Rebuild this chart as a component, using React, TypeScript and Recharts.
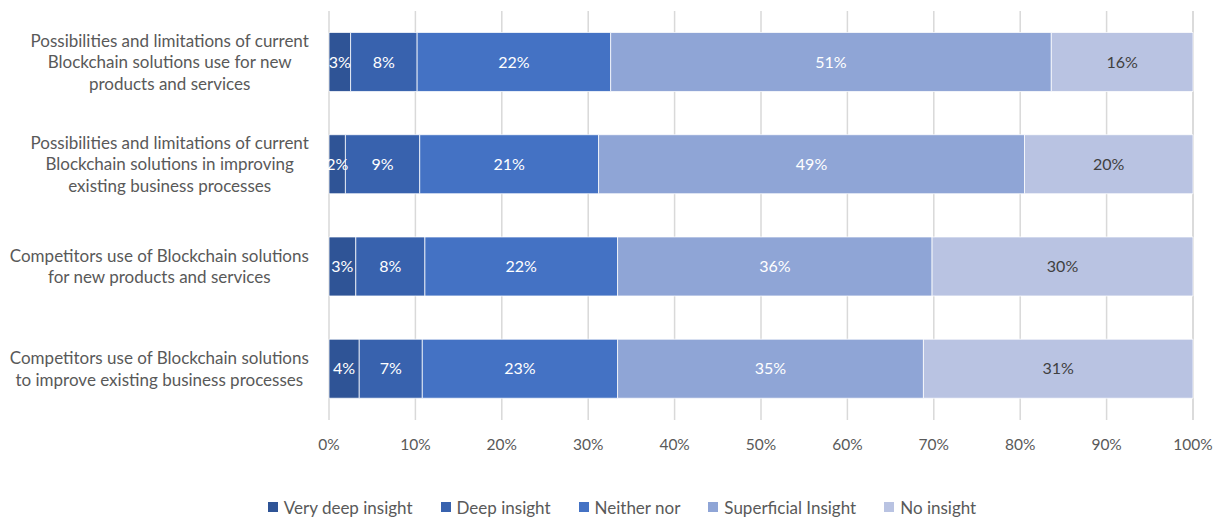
import React from 'react';
import { BarChart, Bar, XAxis, YAxis, CartesianGrid, LabelList } from 'recharts';

const categories = [
  'Possibilities and limitations of current\nBlockchain solutions use for new\nproducts and services',
  'Possibilities and limitations of current\nBlockchain solutions in improving\nexisting business processes',
  'Competitors use of Blockchain solutions\nfor new products and services',
  'Competitors use of Blockchain solutions\nto improve existing business processes',
];
const seriesNames = ['Very deep insight', 'Deep insight', 'Neither nor', 'Superficial Insight', 'No insight'];
const veryDeep = [2.5, 1.9, 3.1, 3.5];
const deep = [7.7, 8.6, 8.0, 7.3];
const neither = [22.4, 20.7, 22.3, 22.6];
const superficial = [51.0, 49.3, 36.4, 35.4];
const noInsight = [16.4, 19.5, 30.2, 31.2];
const xTicks = [0, 10, 20, 30, 40, 50, 60, 70, 80, 90, 100];

const colors = ['#2F5496', '#3862AE', '#4472C4', '#8FA5D6', '#B9C3E2'];
const labelColors = ['#FFFFFF', '#FFFFFF', '#FFFFFF', '#FFFFFF', '#404040'];
const keys = ['veryDeep', 'deep', 'neither', 'superficial', 'noInsight'];

const data = categories.map((c, i) => ({
  name: c,
  veryDeep: veryDeep[i],
  deep: deep[i],
  neither: neither[i],
  superficial: superficial[i],
  noInsight: noInsight[i],
}));

const FONT = 'Lato, "Open Sans", sans-serif';
const FS = 17;
const NUMFS = 15.5;

let ctx: CanvasRenderingContext2D | null = null;
function measure(t: string): number {
  if (!ctx) {
    const c = document.createElement('canvas');
    ctx = c.getContext('2d');
  }
  if (!ctx) return t.length * 7.5;
  ctx.font = `${FS}px Lato`;
  return ctx.measureText(t).width;
}

const YTick = (props: any) => {
  const { y, payload } = props;
  const lines: string[] = String(payload.value).split('\n');
  const maxW = Math.max(...lines.map(measure));
  const right = 309;
  const cx = right - maxW / 2;
  const lh = 21.5;
  const start = y - ((lines.length - 1) * lh) / 2;
  return (
    <text x={cx} y={start} textAnchor="middle" fill="#595959" fontSize={FS} fontFamily={FONT}>
      {lines.map((l, i) => (
        <tspan key={i} x={cx} y={start + i * lh} dy="0.35em">
          {l}
        </tspan>
      ))}
    </text>
  );
};

const LegendBlock = () => (
  <div
    style={{
      position: 'absolute',
      left: 14,
      top: 496,
      width: 1216,
      height: 22,
      display: 'flex',
      justifyContent: 'center',
      alignItems: 'center',
      gap: 28,
      fontFamily: FONT,
      fontSize: FS,
      color: '#595959',
    }}
  >
    {seriesNames.map((n, i) => (
      <div key={n} style={{ display: 'flex', alignItems: 'center' }}>
        <span style={{ display: 'inline-block', width: 10, height: 10, background: colors[i], marginRight: 6 }} />
        <span>{n}</span>
      </div>
    ))}
  </div>
);

export default function App() {
  return (
    <div style={{ position: 'absolute', left: 0, top: 0, width: 1216, height: 517, background: '#fff', overflow: 'hidden' }}>
      <BarChart
        width={1216}
        height={517}
        data={data}
        layout="vertical"
        margin={{ top: 11, right: 23, bottom: 67, left: 0 }}
        barCategoryGap="21%"
      >
        <CartesianGrid horizontal={false} vertical={true} stroke="#D9D9D9" strokeWidth={1.5} />
        <XAxis
          type="number"
          domain={[0, 100]}
          ticks={xTicks}
          tickFormatter={(v: number) => `${v}%`}
          axisLine={false}
          tickLine={false}
          tick={{ fill: '#595959', fontSize: NUMFS, fontFamily: FONT }}
          tickMargin={13}
          height={30}
          interval={0}
        />
        <YAxis
          type="category"
          dataKey="name"
          width={329}
          axisLine={false}
          tickLine={false}
          tick={<YTick />}
          interval={0}
        />
        {keys.map((k, i) => (
          <Bar
            key={k}
            dataKey={k}
            name={seriesNames[i]}
            stackId="a"
            fill={colors[i]}
            stroke="#FFFFFF"
            strokeWidth={0.75}
            isAnimationActive={false}
          >
            <LabelList
              dataKey={k}
              position="center"
              formatter={(v: any) => `${Math.round(Number(v))}%`}
              fill={labelColors[i]}
              fontSize={16}
              fontFamily={FONT}
            />
          </Bar>
        ))}
      </BarChart>
      <LegendBlock />
    </div>
  );
}
